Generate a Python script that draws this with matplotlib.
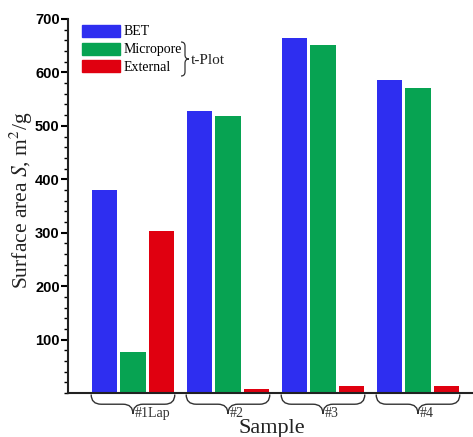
import numpy as np
import matplotlib
matplotlib.use('Agg')
import matplotlib.pyplot as plt
from matplotlib.path import Path
from matplotlib.patches import PathPatch, Patch
from matplotlib.ticker import MultipleLocator, FixedLocator
import matplotlib.transforms as mtransforms

plt.rcParams['mathtext.fontset'] = 'stix'

samples = ['#1Lap', '#2', '#3', '#4']
bet = [380, 528, 665, 586]
micropore = [76, 518, 652, 570]
external = [303, 8, 13, 13]

blue = '#2e2ef0'
green = '#07a352'
red = '#e00010'


def brace(ax, x0, x1, y0, depth, transform, vertical=False, lw=1.0):
  # curly brace from x0 to x1, opening at y0, tip pointing by depth
  xm = (x0 + x1) / 2
  d = depth
  r = 0.12 * (x1 - x0)
  codes = [Path.MOVETO, Path.CURVE3, Path.CURVE3, Path.LINETO,
           Path.CURVE3, Path.CURVE3,
           Path.MOVETO, Path.CURVE3, Path.CURVE3, Path.LINETO,
           Path.CURVE3, Path.CURVE3]
  pts = [
    (x0, y0), (x0, y0 + d * 0.5), (x0 + r, y0 + d * 0.5), (xm - r, y0 + d * 0.5),
    (xm, y0 + d * 0.5), (xm, y0 + d),
    (xm, y0 + d), (xm, y0 + d * 0.5), (xm + r, y0 + d * 0.5), (x1 - r, y0 + d * 0.5),
    (x1, y0 + d * 0.5), (x1, y0),
  ]
  if vertical:
    pts = [(y, x) for x, y in pts]
  p = PathPatch(Path(pts, codes), fc='none', ec='#333333', lw=lw,
                transform=transform, clip_on=False)
  ax.add_patch(p)


fig = plt.figure(figsize=(4.73, 4.37), dpi=100)
ax = fig.add_axes([68/473, 1 - 393/437, 405/473, 374/437])

x = np.arange(len(samples))
step = 0.3
w = 0.265
ax.bar(x - step, bet, w, color=blue, label='BET')
ax.bar(x, micropore, w, color=green, label='Micropore')
ax.bar(x + step, external, w, color=red, label='External')

ax.set_xlim(-0.684, 3.579)
ax.set_ylim(0, 700)

for s in ['top', 'right']:
  ax.spines[s].set_visible(False)
for s in ['left', 'bottom']:
  ax.spines[s].set_linewidth(1.5)
  ax.spines[s].set_color('#222222')

ax.set_xticks([])
ax.yaxis.set_major_locator(FixedLocator([100, 200, 300, 400, 500, 600, 700]))
ax.yaxis.set_minor_locator(MultipleLocator(20))
ax.tick_params(axis='y', which='major', direction='out', length=5, width=1.5,
               labelsize=10.5, pad=1)
ax.tick_params(axis='y', which='minor', direction='out', length=3, width=1.0)
for lab in ax.get_yticklabels():
  lab.set_fontweight('bold')
  lab.set_fontfamily('Liberation Sans')

# group braces under the axis
trans = mtransforms.blended_transform_factory(ax.transData, ax.transAxes)
for i, name in enumerate(samples):
  brace(ax, i - 0.44, i + 0.44, -0.004, -0.052, trans, lw=1.0)
  ax.text(i + 0.02, -0.054, name, transform=trans, ha='left', va='center',
          fontsize=10, family='Liberation Serif', color='#333333')

fig.text(272/473, 1 - 419/437, 'Sample', ha='center', va='top', fontsize=16,
         family='Liberation Serif', color='#222222')
fig.text(21/473, 1 - 200/437, r'Surface area $\mathit{S}$, m$^2$/g', rotation=90,
         ha='center', va='center', fontsize=15.5, family='Liberation Serif',
         color='#222222')

handles = [Patch(color=blue), Patch(color=green), Patch(color=red)]
leg = ax.legend(handles, ['BET', 'Micropore', 'External'], loc='upper left',
                bbox_to_anchor=(0.035, 0.985), frameon=False, borderpad=0,
                borderaxespad=0, handlelength=2.7, handleheight=0.95,
                handletextpad=0.25, labelspacing=0.3,
                prop={'family': 'Liberation Serif', 'size': 10})


# t-Plot brace in the legend
def fx(px):
  return (px - 68) / 405


def fy(py):
  return (393 - py) / 374


brace(ax, fy(76), fy(42), fx(181), fx(189) - fx(181), ax.transAxes, vertical=True, lw=0.9)
ax.text(fx(191), fy(60), 't-Plot', transform=ax.transAxes, ha='left', va='center',
        fontsize=11, family='Liberation Serif', color='#222222')

fig.savefig('out.png', dpi=100)
